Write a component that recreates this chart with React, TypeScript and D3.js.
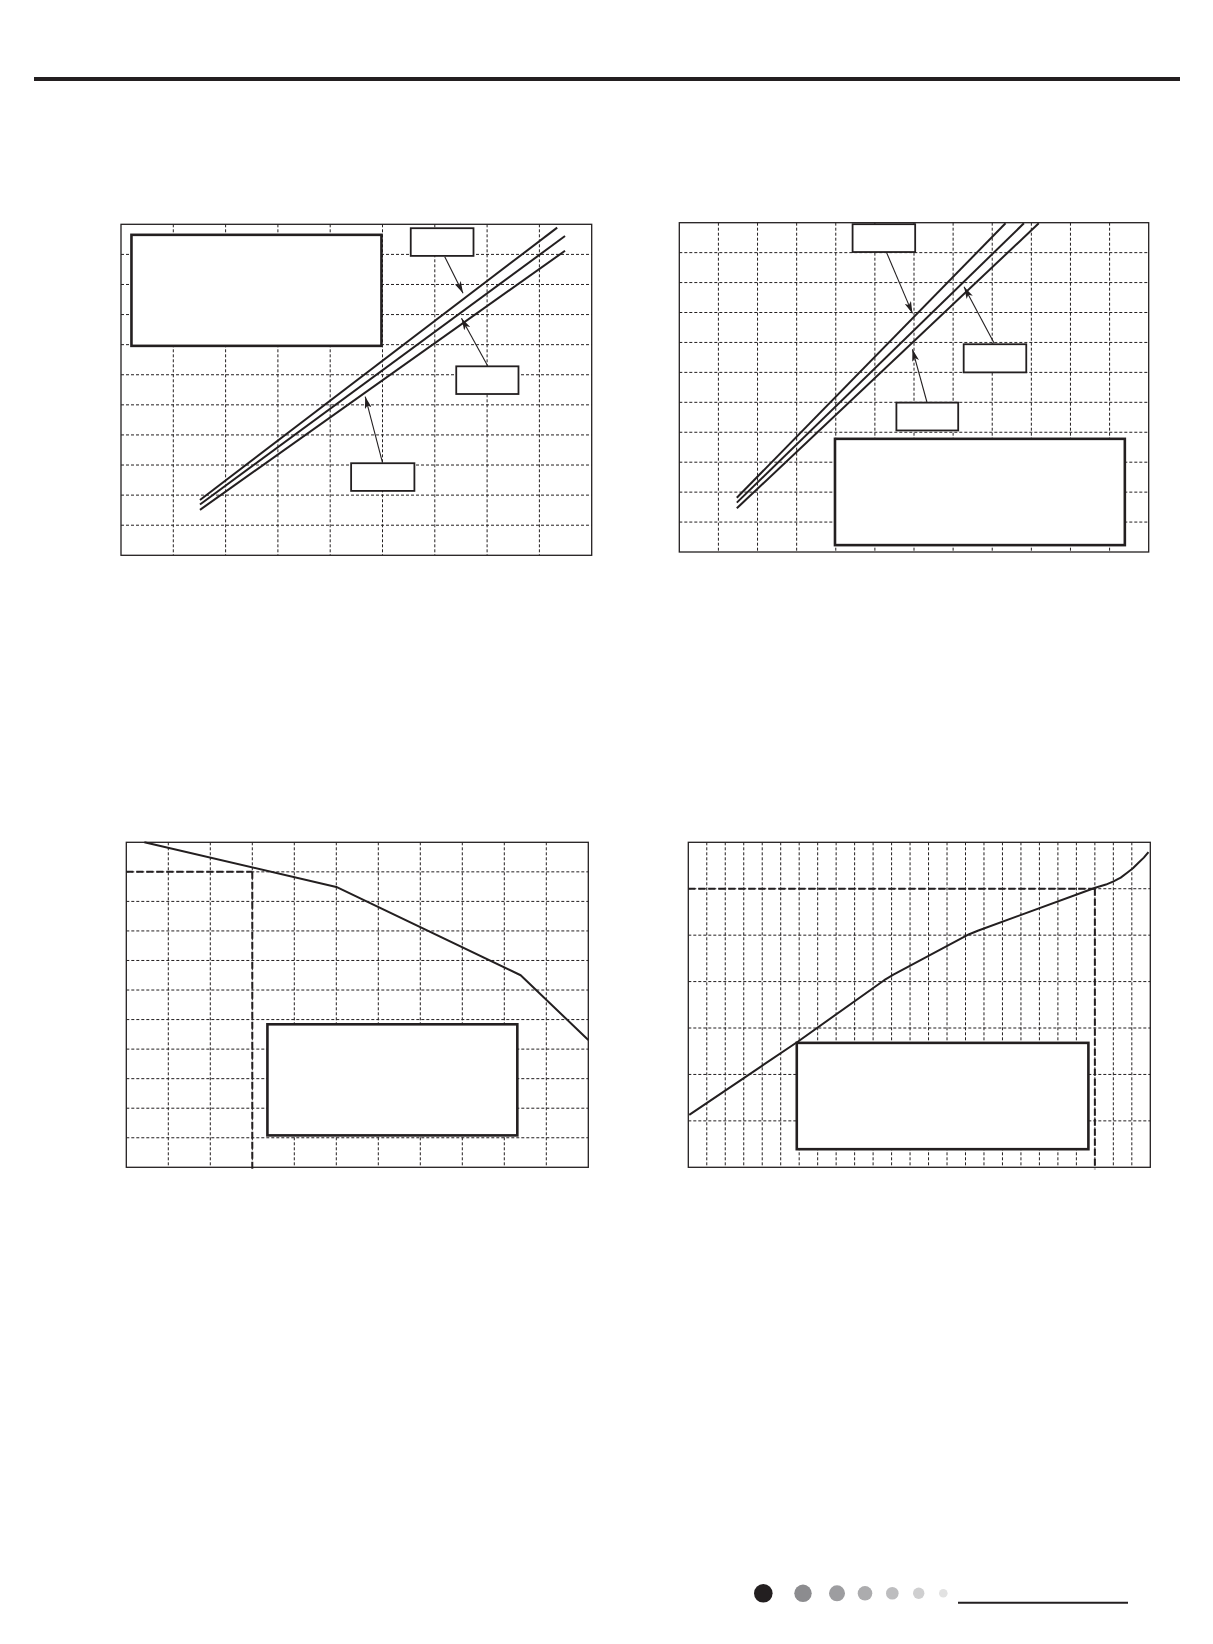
import React from 'react';
import * as d3 from 'd3';

const INK = '#231f20';

type Pt = [number, number];
type Box = [number, number, number, number]; // x0, x1, yTop, yBottom in grid units
type Arrow = [Pt, Pt];

// ---- chart 1 (top left): three straight lines, 9 x 11 grid ----
const c1Grid = { cols: 9, rows: 11 };
const c1Lines: Pt[][] = [
  [[1.51, 1.84], [8.34, 10.89]],
  [[1.51, 1.69], [8.49, 10.61]],
  [[1.51, 1.51], [8.49, 10.12]],
];
const c1Legend: Box = [0.2, 4.98, 10.65, 6.96];
const c1Labels: Box[] = [
  [5.54, 6.74, 10.87, 9.95],
  [6.41, 7.6, 6.28, 5.36],
  [4.4, 5.61, 3.06, 2.14],
];
const c1Arrows: Arrow[] = [
  [[6.19, 9.92], [6.54, 8.71]],
  [[7.01, 6.3], [6.51, 7.88]],
  [[5.0, 3.08], [4.67, 5.27]],
];

// ---- chart 2 (top right): three straight lines, 12 x 11 grid ----
const c2Grid = { cols: 12, rows: 11 };
const c2Lines: Pt[][] = [
  [[1.47, 1.81], [8.34, 10.98]],
  [[1.47, 1.65], [8.81, 10.98]],
  [[1.47, 1.46], [9.19, 10.98]],
];
const c2Legend: Box = [3.98, 11.39, 3.78, 0.23];
const c2Labels: Box[] = [
  [4.43, 6.03, 10.95, 10.02],
  [7.27, 8.87, 6.94, 6.0],
  [5.55, 7.13, 4.99, 4.06],
];
const c2Arrows: Arrow[] = [
  [[5.3, 10.0], [5.96, 7.97]],
  [[8.05, 6.97], [7.28, 8.86]],
  [[6.33, 5.01], [5.96, 6.77]],
];

// ---- chart 3 (bottom left): falling polyline, 11 x 11 grid ----
const c3Grid = { cols: 11, rows: 11 };
const c3Curve: Pt[] = [[0.43, 11], [5.0, 9.49], [9.39, 6.5], [11, 4.31]];
const c3Ref: Pt = [3, 10];
const c3Legend: Box = [3.36, 9.31, 4.84, 1.08];

// ---- chart 4 (bottom right): rising curve, 25 x 7 grid ----
const c4Grid = { cols: 25, rows: 7 };
const c4Curve: Pt[] = [
  [0.05, 1.13], [5.94, 2.71], [10.6, 4.03], [11.1, 4.15], [15.2, 5.02], [15.7, 5.1],
  [22.02, 6.02], [22.6, 6.09], [23.01, 6.16], [23.4, 6.24], [23.73, 6.34],
  [24.06, 6.44], [24.36, 6.56], [24.65, 6.67], [24.9, 6.79],
];
const c4Ref: Pt = [22, 6];
const c4Legend: Box = [5.87, 21.65, 2.68, 0.39];

// page footer dots
const dotX = [763.3, 803, 837, 865, 892.3, 918.7, 943.3];
const dotRadii = [9.3, 8.7, 8, 7.3, 6.3, 5.7, 4.3];
const dotColors = ['#231f20', '#8c8c8f', '#9d9da0', '#acacae', '#bdbdbf', '#cfcfd0', '#e2e2e2'];

interface PanelProps {
  left: number;
  top: number;
  width: number;
  height: number;
  grid: { cols: number; rows: number };
  children: (x: d3.ScaleLinear<number, number>, y: d3.ScaleLinear<number, number>) => React.ReactNode;
}

const Panel: React.FC<PanelProps> = ({ left, top, width, height, grid, children }) => {
  const x = d3.scaleLinear().domain([0, grid.cols]).range([left, left + width]);
  const y = d3.scaleLinear().domain([0, grid.rows]).range([top + height, top]);
  return (
    <g>
      <rect x={left} y={top} width={width} height={height} fill="#fff" />
      <g stroke={INK} strokeWidth={1} strokeDasharray="3,2">
        {d3.range(1, grid.cols).map(i => (
          <line key={'v' + i} x1={x(i)} x2={x(i)} y1={top} y2={top + height} />
        ))}
        {d3.range(1, grid.rows).map(i => (
          <line key={'h' + i} x1={left} x2={left + width} y1={y(i)} y2={y(i)} />
        ))}
      </g>
      {children(x, y)}
      <rect x={left} y={top} width={width} height={height} fill="none" stroke={INK} strokeWidth={1.3} />
    </g>
  );
};

const boxRect = (b: Box, x: any, y: any, sw: number, key?: string | number) => (
  <rect key={key} x={x(b[0])} y={y(b[2])} width={x(b[1]) - x(b[0])} height={y(b[3]) - y(b[2])}
    fill="#fff" stroke={INK} strokeWidth={sw} />
);

const straightPanel = (lines: Pt[][], legend: Box, labels: Box[], arrows: Arrow[]) =>
  (x: any, y: any) => {
    const line = d3.line<Pt>().x(d => x(d[0])).y(d => y(d[1]));
    return (
      <g>
        {boxRect(legend, x, y, 2.6)}
        {lines.map((l, i) => (
          <path key={i} d={line(l) || ''} fill="none" stroke={INK} strokeWidth={2} />
        ))}
        {labels.map((b, i) => boxRect(b, x, y, 1.8, i))}
        {arrows.map((a, i) => (
          <line key={i} x1={x(a[0][0])} y1={y(a[0][1])} x2={x(a[1][0])} y2={y(a[1][1])}
            stroke={INK} strokeWidth={1.1} markerEnd="url(#arrowHead)" />
        ))}
      </g>
    );
  };

const curvePanel = (pts: Pt[], ref: Pt, legend: Box) =>
  (x: any, y: any) => {
    const line = d3.line<Pt>().x(d => x(d[0])).y(d => y(d[1]));
    return (
      <g>
        <g stroke={INK} strokeWidth={2} strokeDasharray="7,3" fill="none">
          <line x1={x(0)} x2={x(ref[0])} y1={y(ref[1])} y2={y(ref[1])} />
          <line x1={x(ref[0])} x2={x(ref[0])} y1={y(ref[1])} y2={y(0) + 2} />
        </g>
        {boxRect(legend, x, y, 2.6)}
        <path d={line(pts) || ''} fill="none" stroke={INK} strokeWidth={2} strokeLinejoin="round" />
      </g>
    );
  };

export default function App() {
  return (
    <svg width={1213} height={1644} viewBox="0 0 1213 1644"
      style={{ position: 'absolute', left: 0, top: 0, display: 'block', background: '#fff' }}>
      <defs>
        <marker id="arrowHead" viewBox="0 0 12 7" refX={12} refY={3.5} markerWidth={12} markerHeight={7}
          markerUnits="userSpaceOnUse" orient="auto">
          <path d="M0,0 L12,3.5 L0,7 L3,3.5 Z" fill={INK} />
        </marker>
      </defs>
      <rect width={1213} height={1644} fill="#fff" />
      <line x1={34} x2={1180} y1={79} y2={79} stroke={INK} strokeWidth={4} />

      <Panel left={121} top={224.3} width={470.7} height={331} grid={c1Grid}>
        {straightPanel(c1Lines, c1Legend, c1Labels, c1Arrows)}
      </Panel>
      <Panel left={679.3} top={222.7} width={469.4} height={329.3} grid={c2Grid}>
        {straightPanel(c2Lines, c2Legend, c2Labels, c2Arrows)}
      </Panel>
      <Panel left={126.3} top={842.3} width={462} height={325} grid={c3Grid}>
        {curvePanel(c3Curve, c3Ref, c3Legend)}
      </Panel>
      <Panel left={688.3} top={842.3} width={462} height={325} grid={c4Grid}>
        {curvePanel(c4Curve, c4Ref, c4Legend)}
      </Panel>

      {dotRadii.map((r, i) => (
        <circle key={i} cx={dotX[i]} cy={1593.3} r={r} fill={dotColors[i]} />
      ))}
      <line x1={958} x2={1128} y1={1602.7} y2={1602.7} stroke={INK} strokeWidth={2} />
    </svg>
  );
}
